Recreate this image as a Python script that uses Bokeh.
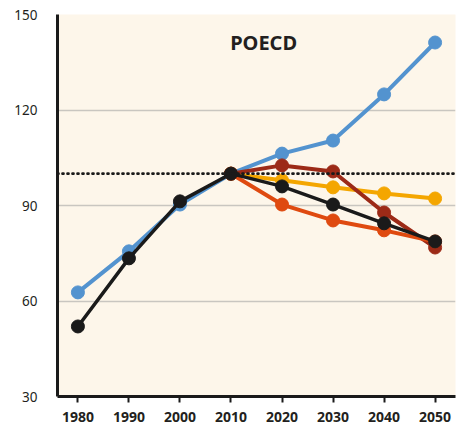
from bokeh.plotting import figure
from bokeh.models import Span, Range1d, FixedTicker, Label
from bokeh.embed import file_html
from bokeh.resources import INLINE

years = [1980, 1990, 2000, 2010, 2020, 2030, 2040, 2050]
proj_years = [2010, 2020, 2030, 2040, 2050]

blue = [62.7, 75.6, 90.3, 100, 106.3, 110.4, 124.9, 141.2]
black = [52.0, 73.4, 91.3, 100, 96.0, 90.3, 84.4, 78.7]
dark_red = [100, 102.6, 100.7, 87.8, 76.8]
yellow = [100, 97.9, 95.7, 93.8, 92.2]
orange = [100, 90.3, 85.3, 82.2, 78.7]

y_ticks = [30, 60, 90, 120, 150]
title = "POECD"

p = figure(width=458, height=425, output_backend="svg", toolbar_location=None,
           x_range=Range1d(1976, 2054), y_range=Range1d(30, 150))
p.min_border_left = 57
p.min_border_right = 3
p.min_border_top = 14
p.min_border_bottom = 29
p.outline_line_color = None
p.background_fill_color = "#FDF6EA"
p.border_fill_color = "white"

p.xgrid.grid_line_color = None
p.ygrid.grid_line_color = "#C9C6C0"
p.ygrid.grid_line_width = 1.5
p.ygrid.ticker = FixedTicker(ticks=y_ticks)

p.yaxis.ticker = FixedTicker(ticks=y_ticks)
p.xaxis.ticker = FixedTicker(ticks=years)
for ax in (p.xaxis, p.yaxis):
    ax.axis_line_color = "#1A1A1A"
    ax.axis_line_width = 3
    ax.minor_tick_line_color = None
    ax.major_label_text_color = "#231F20"
    ax.major_label_text_font = "Noto Sans"
p.yaxis.major_label_text_font_size = "13.5px"
p.xaxis.major_label_text_font_size = "14px"
p.yaxis.major_tick_line_color = None
p.yaxis.major_label_standoff = 14
p.xaxis.major_tick_line_color = "#1A1A1A"
p.xaxis.major_tick_line_width = 2
p.xaxis.major_tick_out = 6
p.xaxis.major_tick_in = 0
p.xaxis.major_label_text_font_style = "bold"
p.xaxis.major_label_standoff = 9

ref = Span(location=100, dimension="width", line_color="#1A1A1A", line_width=2.7,
           line_dash="1 4", line_cap="round")
p.add_layout(ref)

series = [
    (years, blue, "#5393CF", 4),
    (proj_years, yellow, "#F4A600", 4),
    (proj_years, dark_red, "#9C2A17", 4),
    (proj_years, orange, "#DF4A10", 4),
    (years, black, "#1A1A1A", 3.5),
]
for xs, ys, col, lw in series:
    p.line(xs, ys, line_color=col, line_width=lw)
    p.scatter(xs, ys, size=13, fill_color=col, line_color=col)

p.add_layout(Label(x=2016.4, y=141.2, text=title, text_align="center",
                   text_baseline="middle", text_font="Noto Sans",
                   text_font_style="bold", text_font_size="20px",
                   text_color="#231F20"))

open("out.html", "w").write(file_html(p, INLINE))
